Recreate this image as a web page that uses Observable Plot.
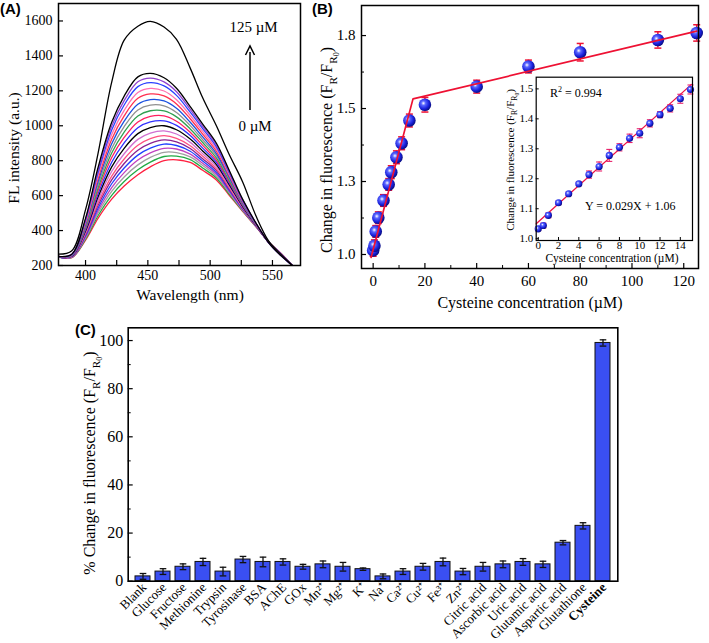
<!DOCTYPE html>
<html><head><meta charset="utf-8">
<script src="https://cdn.jsdelivr.net/npm/d3@7"></script>
<script src="https://cdn.jsdelivr.net/npm/@observablehq/plot@0.6"></script>
<style>
body{margin:0;background:#fff;}
#root{position:relative;width:709px;height:643px;overflow:hidden;background:#fff;}
#root > svg{position:absolute;}
</style></head><body><div id="root"></div>
<script>
// ---------- Panel A: emission spectra ----------
const wavelengths = [378, 389, 400, 410, 421, 431, 442, 452, 463, 473, 484, 494, 505, 515, 526, 537, 547, 557, 566];
const spectraValues = [
  [250,245,345,470,580,655,720,765,800,805,790,745,690,605,510,420,335,268,200],
  [250,246,351,485,602,681,748,792,824,826,806,758,701,612,514,421,335,267,200],
  [250,247,358,499,624,707,776,819,848,846,822,772,711,620,517,422,334,267,200],
  [250,248,364,514,646,732,804,845,871,867,838,785,722,627,521,423,334,266,200],
  [250,249,370,528,668,758,832,872,895,887,854,798,732,634,524,424,334,265,200],
  [251,250,376,543,690,784,860,899,919,908,870,811,743,641,528,425,334,265,200],
  [251,251,383,557,712,810,888,926,943,928,886,825,753,649,531,426,333,264,200],
  [251,252,390,574,738,840,922,958,971,953,905,840,766,657,535,427,333,263,200],
  [251,253,398,592,765,871,955,990,1000,977,924,856,778,666,539,428,333,263,200],
  [251,255,405,609,791,902,989,1022,1028,1002,944,872,791,675,544,430,333,262,200],
  [251,256,413,627,818,933,1022,1054,1057,1026,963,888,803,683,548,431,332,261,200],
  [251,257,420,644,844,964,1056,1086,1085,1051,982,904,816,692,552,432,332,260,200],
  [251,258,428,661,870,995,1090,1118,1114,1076,1001,920,829,701,556,433,332,259,200],
  [251,259,435,679,897,1026,1123,1150,1142,1100,1020,936,841,709,560,434,331,259,200],
  [252,261,443,696,923,1057,1157,1182,1171,1125,1040,952,854,718,565,436,331,258,200],
  [252,262,450,714,950,1088,1190,1214,1199,1149,1059,968,866,727,569,437,331,257,200],
  [252,263,458,731,976,1119,1224,1247,1228,1174,1078,984,879,736,573,438,330,256,200],
  [252,264,464,746,998,1144,1252,1273,1251,1195,1094,997,890,743,577,439,330,256,200],
  [252,265,470,760,1020,1170,1280,1300,1275,1215,1110,1010,900,750,580,440,330,255,200],
  [265,285,520,840,1250,1490,1570,1598,1565,1495,1330,1160,1000,840,680,480,340,262,200]
];
const spectraColors = ["#ff2040","#22aa44","#a0a0a0","#c040c0","#2040ff","#8a2090","#ff5080","#d070d0",
  "#000000","#3030ff","#ff2060","#30a050","#909090","#1a50e0","#ff3050","#ff70b0","#2a40ff","#9040d0","#000000","#000000"];
const yTicksA = [200,400,600,800,1000,1200,1400,1600];
const xTicksA = [400,425,450,475,500,525,550];
const xLabelsA = [400,450,500,550];

// ---------- Panel B: cysteine titration ----------
const concMain = [0,0.5,1,2,4,6,7,9,11,14,20,40,60,80,110,125];
const ratioMain = [1.014,1.03,1.079,1.126,1.185,1.24,1.282,1.333,1.381,1.459,1.513,1.575,1.644,1.693,1.735,1.759];
const errMain = [0.02,0.02,0.02,0.02,0.02,0.02,0.022,0.022,0.022,0.022,0.025,0.022,0.022,0.03,0.028,0.028];
const fitMainX = [-0.8, 15.4, 125];
const fitMainY = [0.99, 1.533, 1.765];
const xTicksB = [0,20,40,60,80,100,120];
const xMinorB = [10,30,50,70,90,110];
const yTicksB = [1.0,1.25,1.5,1.75];
const yMinorB = [1.125,1.375,1.625];

const concInset = [0,0.5,1,2,3,4,5,6,7,8,9,10,11,12,13,14,15];
const ratioInset = [1.033,1.044,1.078,1.12,1.15,1.183,1.214,1.241,1.278,1.305,1.335,1.352,1.385,1.414,1.435,1.467,1.498];
const errInset = [0.006,0.008,0.008,0.006,0.006,0.006,0.012,0.015,0.02,0.012,0.014,0.015,0.012,0.01,0.012,0.015,0.015];
const fitInsetX = [-0.2, 15.1];
const fitInsetY = [1.05, 1.515];
const xTicksInset = [0,2,4,6,8,10,12,14];
const yTicksInset = [1.0,1.1,1.2,1.3,1.4,1.5];

// ---------- Panel C: selectivity ----------
const analytes = ["Blank","Glucose","Fructose","Methionine","Trypsin","Tyrosinase","BSA","AChE","GOx","Mn²⁺","Mg²⁺","K⁺","Na⁺","Ca²⁺","Cu²⁺","Fe³⁺","Zn²⁺","Citric acid","Ascorbic acid","Uric acid","Glutamic acid","Aspartic acid","Glutathione","Cysteine"];
const changePct = [2,4,6,8,4,9,8,8,6,7,6,5,2,4,6,8,4,6,7,8,7,16,23,99];
const changeErr = [1.2,1.2,1.2,1.5,1.8,1.3,2,1.3,1,1.4,1.8,0.5,1,1.2,1.4,1.6,1.3,1.8,1.4,1.4,1.3,0.9,1.3,1.3];
const yTicksC = [0,20,40,60,80,100];
const yMinorC = [10,30,50,70,90];

// ---------- helpers ----------
const root = document.getElementById("root");
const SERIF = "'Liberation Serif','Times New Roman',serif";
const style = fs => ({background:"transparent", fontFamily: SERIF, fontSize: fs + "px", color: "black", overflow: "visible"});
const capSymbol = {draw(ctx, size){ const r = Math.sqrt(size/Math.PI); ctx.moveTo(-r,0); ctx.lineTo(r,0); }};
const plain = d => String(d);
function place(svg, left, top){ svg.style.left = left + "px"; svg.style.top = top + "px"; root.appendChild(svg); return svg; }
function addSphere(svg, id, c1, c2, c3){
  const defs = d3.select(svg).insert("defs", ":first-child");
  const g = defs.append("radialGradient").attr("id", id).attr("cx","38%").attr("cy","38%").attr("r","62%");
  g.append("stop").attr("offset","0%").attr("stop-color","#ffffff");
  g.append("stop").attr("offset","28%").attr("stop-color",c1);
  g.append("stop").attr("offset","70%").attr("stop-color",c2);
  g.append("stop").attr("offset","100%").attr("stop-color",c3);
}

// ---------- Panel A plot ----------
{
  const W = 305, H = 310, mL = 58, mR = 5, mT = 3, mB = 45;
  const iw = W - mL - mR, ih = H - mT - mB;
  const marks = spectraValues.map((vals, k) =>
    Plot.line(wavelengths.map((w, i) => ({w, v: vals[i]})), {x: "w", y: "v", stroke: spectraColors[k], strokeWidth: 1.3, curve: "catmull-rom", clip: true}));
  const svg = Plot.plot({
    width: W, height: H, marginLeft: mL, marginRight: mR, marginTop: mT, marginBottom: mB,
    x: {domain: [378.3, 572.5]}, y: {domain: [200, 1700]},
    style: style(14),
    marks: [
      ...marks,
      Plot.tickX(xTicksA, {x: d => d, insetTop: ih - 5, strokeWidth: 1.2}),
      Plot.tickY(yTicksA, {y: d => d, insetRight: iw - 5, strokeWidth: 1.2}),
      Plot.frame({stroke: "black", strokeWidth: 1.5}),
      Plot.axisX({ticks: xLabelsA, tickSize: 0, tickPadding: 5, tickFormat: plain, label: null, fontSize: 14}),
      Plot.axisY({ticks: yTicksA, tickSize: 0, tickPadding: 6, tickFormat: plain, label: null, fontSize: 14})
    ]
  });
  place(svg, 0, 0);
}

// ---------- Panel B main plot ----------
{
  const W = 409, H = 320, mL = 61, mR = 11, mT = 5, mB = 52;
  const iw = W - mL - mR, ih = H - mT - mB;
  const pts = concMain.map((x, i) => ({x, y: ratioMain[i], e: errMain[i]}));
  const fit = fitMainX.map((x, i) => ({x, y: fitMainY[i]}));
  const red = "#ee1133";
  const svg = Plot.plot({
    width: W, height: H, marginLeft: mL, marginRight: mR, marginTop: mT, marginBottom: mB,
    x: {domain: [-4.5, 125.7]}, y: {domain: [0.952, 1.853]},
    style: style(15),
    marks: [
      Plot.ruleX(pts, {x: "x", y1: d => d.y - d.e, y2: d => d.y + d.e, stroke: red, strokeWidth: 1.5}),
      Plot.dot(pts, {x: "x", y: d => d.y + d.e, symbol: capSymbol, r: 3.5, fill: "none", stroke: red, strokeWidth: 1.5}),
      Plot.dot(pts, {x: "x", y: d => d.y - d.e, symbol: capSymbol, r: 3.5, fill: "none", stroke: red, strokeWidth: 1.5}),
      Plot.dot(pts, {x: "x", y: "y", r: 6.3, fill: "url(#sphB)", stroke: "none"}),
      Plot.line(fit, {x: "x", y: "y", stroke: red, strokeWidth: 1.7}),
      Plot.tickX(xTicksB, {x: d => d, insetTop: ih - 5, strokeWidth: 1.2}),
      Plot.tickX(xMinorB, {x: d => d, insetTop: ih - 3, strokeWidth: 1}),
      Plot.tickY(yTicksB, {y: d => d, insetRight: iw - 5, strokeWidth: 1.2}),
      Plot.tickY(yMinorB, {y: d => d, insetRight: iw - 3, strokeWidth: 1}),
      Plot.frame({stroke: "black", strokeWidth: 1.5}),
      Plot.axisX({ticks: xTicksB, tickSize: 0, tickPadding: 7, tickFormat: plain, label: null, fontSize: 15}),
      Plot.axisY({ticks: yTicksB, tickSize: 0, tickPadding: 6, tickFormat: d => d.toFixed(1), label: null, fontSize: 15})
    ]
  });
  addSphere(svg, "sphB", "#5a66ff", "#1a22dd", "#0a0f8a");
  place(svg, 300, 0);
}

// ---------- Panel B inset ----------
{
  const W = 220, H = 215, mL = 55.7, mR = 8, mT = 16.7, mB = 35;
  const iw = W - mL - mR, ih = H - mT - mB;
  const pts = concInset.map((x, i) => ({x, y: ratioInset[i], e: errInset[i]}));
  const fit = fitInsetX.map((x, i) => ({x, y: fitInsetY[i]}));
  const red = "#ee1144", pink = "#e8206a";
  const svg = Plot.plot({
    width: W, height: H, marginLeft: mL, marginRight: mR, marginTop: mT, marginBottom: mB,
    x: {domain: [-0.2, 15.2]}, y: {domain: [0.994, 1.539]},
    style: style(11),
    marks: [
      Plot.frame({fill: "white"}),
      Plot.line(fit, {x: "x", y: "y", stroke: red, strokeWidth: 1.3}),
      Plot.ruleX(pts, {x: "x", y1: d => d.y - d.e, y2: d => d.y + d.e, stroke: pink, strokeWidth: 1.1}),
      Plot.dot(pts, {x: "x", y: d => d.y + d.e, symbol: capSymbol, r: 3, fill: "none", stroke: pink, strokeWidth: 1.1}),
      Plot.dot(pts, {x: "x", y: d => d.y - d.e, symbol: capSymbol, r: 3, fill: "none", stroke: pink, strokeWidth: 1.1}),
      Plot.dot(pts, {x: "x", y: "y", r: 3.6, fill: "url(#sphI)", stroke: "none"}),
      Plot.tickX(xTicksInset, {x: d => d, insetTop: ih - 3, strokeWidth: 1}),
      Plot.tickY(yTicksInset, {y: d => d, insetRight: iw - 3, strokeWidth: 1}),
      Plot.frame({stroke: "black", strokeWidth: 1.2}),
      Plot.axisX({ticks: xTicksInset, tickSize: 0, tickPadding: 1, tickFormat: plain, label: null, fontSize: 11}),
      Plot.axisY({ticks: yTicksInset, tickSize: 0, tickPadding: 3, tickFormat: d => d.toFixed(1), label: null, fontSize: 11})
    ]
  });
  addSphere(svg, "sphI", "#5a66ff", "#1a22dd", "#0a0f8a");
  place(svg, 480, 60);
}

// ---------- Panel C plot ----------
{
  const W = 709, H = 333, mL = 127.7, mR = 91.7, mT = 17.3, mB = 62.3;
  const iw = W - mL - mR, ih = H - mT - mB;
  const rows = analytes.map((c, i) => ({c, v: changePct[i], e: changeErr[i]}));
  const svg = Plot.plot({
    width: W, height: H, marginLeft: mL, marginRight: mR, marginTop: mT, marginBottom: mB,
    x: {type: "band", domain: analytes, paddingInner: 0.25, paddingOuter: 0.3, axis: null},
    y: {domain: [0, 105.3]},
    style: style(16),
    marks: [
      Plot.barY(rows, {x: "c", y: "v", fill: "#3a4ff2", stroke: "#111", strokeWidth: 1}),
      Plot.ruleX(rows, {x: "c", y1: d => d.v - d.e, y2: d => d.v + d.e, stroke: "#111", strokeWidth: 1.3}),
      Plot.dot(rows, {x: "c", y: d => d.v + d.e, symbol: capSymbol, r: 3.3, fill: "none", stroke: "#111", strokeWidth: 1.3}),
      Plot.dot(rows, {x: "c", y: d => d.v - d.e, symbol: capSymbol, r: 3.3, fill: "none", stroke: "#111", strokeWidth: 1.3}),
      Plot.tickY(yTicksC, {y: d => d, insetRight: iw - 5, strokeWidth: 1.2}),
      Plot.tickY(yMinorC, {y: d => d, insetRight: iw - 3, strokeWidth: 1}),
      Plot.frame({stroke: "black", strokeWidth: 1.6}),
      Plot.axisY({ticks: yTicksC, tickSize: 0, tickPadding: 5, tickFormat: plain, label: null, fontSize: 16}),
      Plot.text(rows.filter(d => d.c !== "Cysteine"), {x: "c", text: "c", frameAnchor: "bottom", rotate: -45, textAnchor: "end", dx: 4, dy: 7, fontSize: 13}),
      Plot.text(rows.filter(d => d.c === "Cysteine"), {x: "c", text: "c", frameAnchor: "bottom", rotate: -45, textAnchor: "end", dx: 4, dy: 7, fontSize: 13, fontWeight: "bold"})
    ]
  });
  place(svg, 0, 310);
}

// ---------- Overlay: titles and annotations ----------
{
  const ov = d3.create("svg").attr("width", 709).attr("height", 643)
    .style("left", "0px").style("top", "0px").style("pointer-events", "none")
    .style("font-family", SERIF);
  function text(x, y, s, fs, anchor = "start", extra = {}) {
    const t = ov.append("text").attr("x", x).attr("y", y).attr("font-size", fs).attr("text-anchor", anchor).text(s);
    for (const k in extra) t.attr(k, extra[k]);
    return t;
  }
  function frTitle(parent, prefix, fs) {
    const t = parent.append("text").attr("text-anchor", "middle").attr("font-size", fs);
    t.append("tspan").text(prefix + "F");
    t.append("tspan").attr("font-size", fs * 0.7).attr("dy", fs * 0.3).text("R");
    t.append("tspan").attr("font-size", fs).attr("dy", -fs * 0.3).text("/F");
    t.append("tspan").attr("font-size", fs * 0.7).attr("dy", fs * 0.3).text("R");
    t.append("tspan").attr("font-size", fs * 0.5).attr("dy", fs * 0.15).text("0");
    t.append("tspan").attr("font-size", fs).attr("dy", -fs * 0.45).text(")");
    return t;
  }
  const SANS = "'Liberation Sans',Arial,sans-serif";
  // panel letters
  text(0, 14, "(A)", 15, "start", {"font-family": SANS, "font-weight": "bold"});
  text(312, 14, "(B)", 15, "start", {"font-family": SANS, "font-weight": "bold"});
  text(75, 335, "(C)", 15, "start", {"font-family": SANS, "font-weight": "bold"});
  // Panel A titles
  ov.append("g").attr("transform", "translate(19,148) rotate(-90)")
    .append("text").attr("text-anchor", "middle").attr("font-size", 15.5).text("FL intensity (a.u.)");
  text(190, 300, "Wavelength (nm)", 15.5, "middle");
  text(253.5, 32, "125 µM", 15, "middle");
  text(255, 131, "0 µM", 15, "middle");
  ov.append("line").attr("x1", 250).attr("x2", 250).attr("y1", 110).attr("y2", 52).attr("stroke", "black").attr("stroke-width", 1.5);
  ov.append("path").attr("d", "M245.5,55 L250,46 L254.5,55").attr("fill", "none").attr("stroke", "black").attr("stroke-width", 1.5);
  // Panel B titles
  frTitle(ov.append("g").attr("transform", "translate(332,150) rotate(-90)"), "Change in fluorescence (", 16);
  text(530, 308, "Cysteine concentration (µM)", 16, "middle");
  // inset titles
  frTitle(ov.append("g").attr("transform", "translate(514,160) rotate(-90)"), "Change in fluorescence (", 11);
  text(612, 262, "Cysteine concentration (µM)", 11.5, "middle");
  const r2 = text(550, 97, "R", 12);
  r2.append("tspan").attr("font-size", 8).attr("dy", -5).text("2");
  r2.append("tspan").attr("font-size", 12).attr("dy", 5).text(" = 0.994");
  text(585, 210, "Y = 0.029X + 1.06", 12);
  // Panel C title
  frTitle(ov.append("g").attr("transform", "translate(95,463) rotate(-90)"), "% Change in fluorescence (", 16);
  root.appendChild(ov.node());
}
</script></body></html>
